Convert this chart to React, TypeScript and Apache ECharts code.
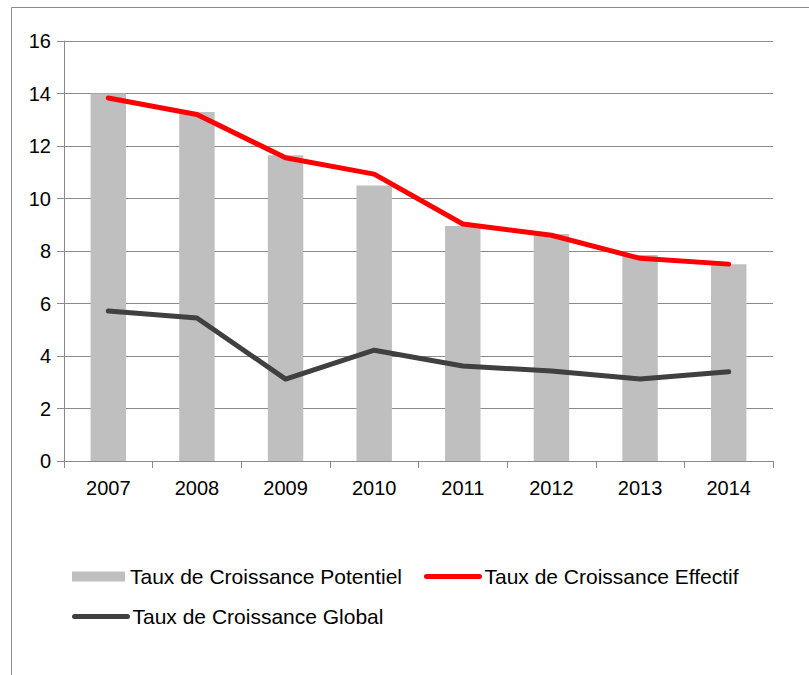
import React, { useEffect, useRef } from "react";
import * as echarts from "echarts";

const categories = ["2007", "2008", "2009", "2010", "2011", "2012", "2013", "2014"];
const potentiel = [14.0, 13.3, 11.65, 10.5, 8.95, 8.65, 7.85, 7.5];
const effectif = [13.83, 13.2, 11.55, 10.93, 9.03, 8.6, 7.72, 7.5];
const global = [5.71, 5.45, 3.12, 4.22, 3.62, 3.43, 3.12, 3.4];
const seriesNames = [
  "Taux de Croissance Potentiel",
  "Taux de Croissance Effectif",
  "Taux de Croissance Global",
];

const FONT = "'Liberation Sans', Arial, sans-serif";
const GRAY = "#8a8a8a";

const legendBase = {
  itemWidth: 53,
  itemHeight: 10,
  itemGap: 22,
  padding: 0,
  textStyle: { fontFamily: FONT, fontSize: 21, color: "#000" },
};

const lineLegendItem = (name: string) => ({
  name,
  itemStyle: { opacity: 0 },
  lineStyle: { width: 5, cap: "round" },
});

export default function App() {
  const ref = useRef<HTMLDivElement>(null);
  useEffect(() => {
    if (!ref.current) return;
    const chart = echarts.init(ref.current, undefined, { renderer: "svg" });
    chart.setOption({
      animation: false,
      backgroundColor: "#ffffff",
      textStyle: { fontFamily: FONT },
      graphic: [
        {
          type: "rect",
          shape: { x: 11.5, y: 7.5, width: 900, height: 800 },
          style: { fill: "none", stroke: GRAY, lineWidth: 1 },
          silent: true,
        },
      ],
      grid: { left: 64, right: 36, top: 41, bottom: 214 },
      legend: [
        {
          ...legendBase,
          left: 72,
          top: 566,
          data: [
            { name: seriesNames[0], icon: "rect" },
            lineLegendItem(seriesNames[1]),
          ],
        },
        {
          ...legendBase,
          left: 72,
          top: 606,
          data: [lineLegendItem(seriesNames[2])],
        },
      ],
      xAxis: {
        type: "category",
        data: categories,
        boundaryGap: true,
        axisLine: { lineStyle: { color: GRAY, width: 1 } },
        axisTick: { show: true, length: 7, lineStyle: { color: GRAY } },
        axisLabel: { color: "#000", fontSize: 20, fontFamily: FONT, margin: 17 },
      },
      yAxis: {
        type: "value",
        min: 0,
        max: 16,
        interval: 2,
        axisLine: { show: true, lineStyle: { color: GRAY, width: 1 } },
        axisTick: { show: true, length: 7, lineStyle: { color: GRAY } },
        axisLabel: { color: "#000", fontSize: 20, fontFamily: FONT, margin: 13 },
        splitLine: { show: true, lineStyle: { color: GRAY, width: 1 } },
      },
      series: [
        {
          name: seriesNames[0],
          type: "bar",
          data: potentiel,
          barWidth: "40%",
          itemStyle: { color: "#bfbfbf" },
        },
        {
          name: seriesNames[1],
          type: "line",
          data: effectif,
          symbol: "none",
          lineStyle: { color: "#ff0000", width: 5, cap: "round", join: "round" },
          itemStyle: { color: "#ff0000" },
        },
        {
          name: seriesNames[2],
          type: "line",
          data: global,
          symbol: "none",
          lineStyle: { color: "#404040", width: 5, cap: "round", join: "round" },
          itemStyle: { color: "#404040" },
        },
      ],
    });
    return () => chart.dispose();
  }, []);
  return (
    <div
      ref={ref}
      style={{ position: "fixed", left: 0, top: 0, width: 809, height: 675 }}
    />
  );
}
